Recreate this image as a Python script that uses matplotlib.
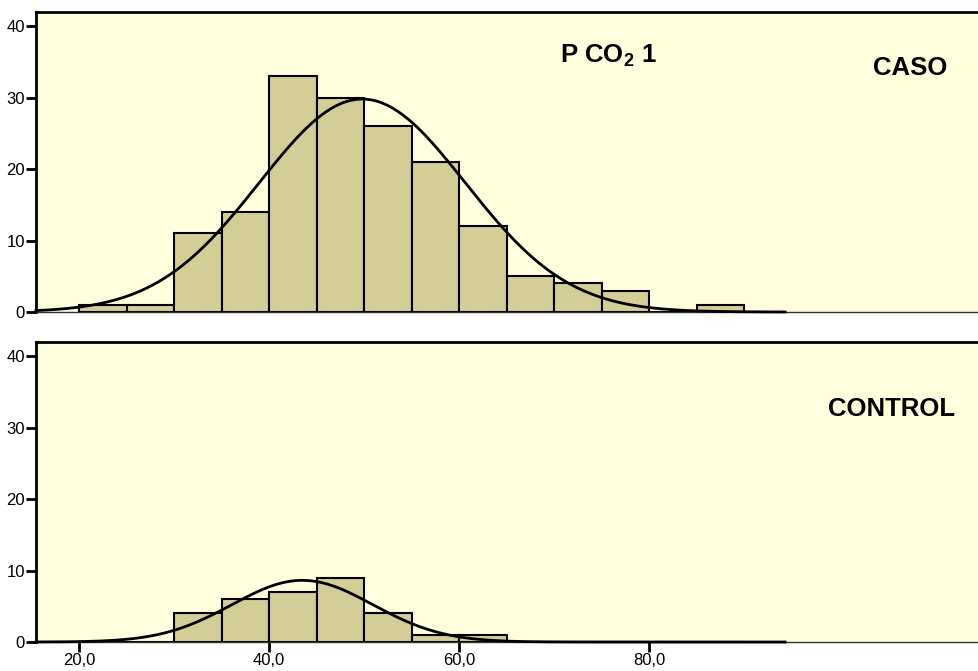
import numpy as np
import matplotlib
matplotlib.use("Agg")
import matplotlib.pyplot as plt

plt.rcParams["font.family"] = ["Liberation Sans", "DejaVu Sans"]
plt.rcParams["mathtext.fontset"] = "custom"
plt.rcParams["mathtext.rm"] = "Liberation Sans:bold"
plt.rcParams["mathtext.bf"] = "Liberation Sans:bold"

# histogram data (bin width 5)
bin_edges = [20, 25, 30, 35, 40, 45, 50, 55, 60, 65, 70, 75, 80, 85, 90]
caso_counts = [1, 1, 11, 14, 33, 30, 26, 21, 12, 5, 4, 3, 0, 1]
control_counts = [0, 0, 4, 6, 7, 9, 4, 1, 1, 0, 0, 0, 0, 0]

# normal curve parameters
caso_mean, caso_sd = 49.8, 10.85
control_mean, control_sd = 43.5, 7.4

x_ticks = [20, 40, 60, 80]
y_ticks = [0, 10, 20, 30, 40]

bg = "#FFFFDD"
bar_color = "#D3CE97"

W, H = 979, 671
fig = plt.figure(figsize=(W / 100, H / 100), dpi=100)
ax1 = fig.add_axes([36 / W, 1 - 312 / H, 943 / W, 300 / H])
ax2 = fig.add_axes([36 / W, 1 - 642 / H, 943 / W, 300 / H])

xmin, xmax = 15.47, 114.7
curve_x = np.linspace(xmin, 94.3, 300)


def draw_panel(ax, counts, mean, sd):
    ax.set_facecolor(bg)
    lefts = bin_edges[:-1]
    ax.bar(lefts, counts, width=5, align="edge", color=bar_color,
           edgecolor="black", linewidth=1.5, zorder=2)
    n = sum(counts)
    y = n * 5 / (sd * np.sqrt(2 * np.pi)) * np.exp(-(curve_x - mean) ** 2 / (2 * sd ** 2))
    ax.plot(curve_x, y, color="black", linewidth=2, zorder=3, clip_on=False)
    ax.set_xlim(xmin, xmax)
    ax.set_ylim(0, 41.96)
    ax.set_yticks(y_ticks)
    ax.set_yticklabels([str(v) for v in y_ticks], fontsize=12)
    ax.tick_params(axis="y", length=7, width=2, pad=1)
    ax.spines["right"].set_visible(False)
    ax.spines["left"].set_linewidth(2)
    ax.spines["top"].set_linewidth(2)
    ax.spines["bottom"].set_linewidth(1)
    ax.spines["bottom"].set_color("#333333")


draw_panel(ax1, caso_counts, caso_mean, caso_sd)
draw_panel(ax2, control_counts, control_mean, control_sd)

# panel labels (pixel positions converted to figure fraction)
fig.text(947 / W, 1 - 68 / H, "CASO", ha="right", va="center",
         fontsize=18.5, fontweight="bold")
fig.text(955 / W, 1 - 409 / H, "CONTROL", ha="right", va="center",
         fontsize=18.5, fontweight="bold")
fig.text(560 / W, 1 - 56 / H, r"P CO$_{\mathbf{2}}$ 1", ha="left", va="center",
         fontsize=18.5, fontweight="bold")

ax1.set_xticks([])
ax2.set_xticks(x_ticks)
ax2.set_xticklabels([f"{v},0" for v in x_ticks], fontsize=12)
ax2.tick_params(axis="x", length=7, width=2, pad=1)

fig.savefig("out.png", dpi=100, facecolor="white")
